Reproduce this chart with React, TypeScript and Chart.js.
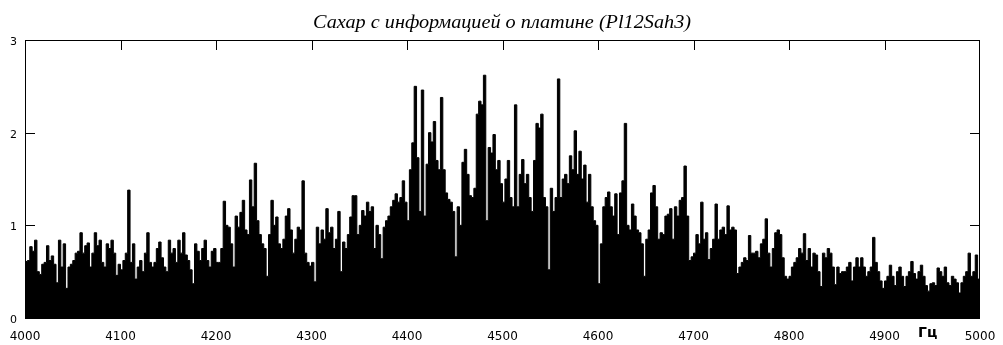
import { useEffect, useRef } from 'react';
import { Chart, registerables } from 'chart.js';

Chart.register(...registerables);

const titleText = 'Сахар с информацией о платине (Pl12Sah3)';
const unitLabel = 'Гц';
const startHz = 4000;
const endHz = 5000;
const binWidthHz = 2.5;
const xTickStep = 100;
const yMin = 0;
const yMax = 3;
const yTickStep = 1;

// Spectrum amplitude, one value per 2.5 Hz bin from 4000 Hz
const amplitude = [
  0.61, 0.62, 0.77, 0.72, 0.84, 0.50, 0.47, 0.58, 0.60, 0.78,
  0.62, 0.67, 0.58, 0.38, 0.84, 0.55, 0.80, 0.32, 0.55, 0.58,
  0.62, 0.70, 0.72, 0.92, 0.70, 0.78, 0.81, 0.55, 0.70, 0.92,
  0.78, 0.84, 0.60, 0.55, 0.80, 0.75, 0.84, 0.70, 0.46, 0.58,
  0.52, 0.62, 0.70, 1.38, 0.60, 0.80, 0.42, 0.55, 0.62, 0.50,
  0.70, 0.92, 0.60, 0.55, 0.60, 0.75, 0.82, 0.65, 0.55, 0.50,
  0.84, 0.70, 0.75, 0.60, 0.84, 0.70, 0.92, 0.68, 0.62, 0.52,
  0.37, 0.80, 0.72, 0.62, 0.75, 0.84, 0.62, 0.55, 0.72, 0.75,
  0.60, 0.60, 0.75, 1.26, 1.00, 0.98, 0.80, 0.55, 1.10, 0.98,
  1.14, 1.27, 0.95, 0.90, 1.49, 1.20, 1.67, 1.05, 0.90, 0.80,
  0.75, 0.45, 0.90, 1.27, 1.00, 1.09, 0.80, 0.75, 0.85, 1.10,
  1.18, 0.95, 0.70, 0.85, 0.98, 0.95, 1.48, 0.70, 0.60, 0.56,
  0.60, 0.39, 0.98, 0.80, 0.95, 0.85, 1.18, 0.92, 0.98, 0.75,
  0.85, 1.15, 0.50, 0.82, 0.75, 0.90, 1.09, 1.32, 1.32, 0.90,
  1.00, 1.16, 1.10, 1.25, 1.15, 1.20, 0.75, 1.00, 0.90, 0.64,
  0.98, 1.05, 1.10, 1.20, 1.27, 1.34, 1.25, 1.30, 1.48, 1.25,
  1.05, 1.60, 1.89, 2.50, 1.73, 1.15, 2.46, 1.10, 1.66, 2.00,
  1.90, 2.12, 1.70, 1.60, 2.38, 1.60, 1.35, 1.28, 1.25, 1.15,
  0.66, 1.20, 1.00, 1.68, 1.82, 1.55, 1.32, 1.30, 1.40, 2.20,
  2.34, 2.30, 2.62, 1.05, 1.84, 1.78, 1.98, 1.60, 1.70, 1.45,
  1.25, 1.50, 1.70, 1.30, 1.20, 2.30, 1.20, 1.55, 1.71, 1.45,
  1.55, 1.30, 1.15, 1.70, 2.10, 2.05, 2.20, 1.30, 1.20, 0.52,
  1.40, 1.15, 1.30, 2.58, 1.30, 1.50, 1.55, 1.45, 1.75, 1.60,
  2.02, 1.55, 1.80, 1.50, 1.65, 1.25, 1.55, 1.20, 1.05, 1.00,
  0.37, 0.80, 1.20, 1.30, 1.36, 1.20, 1.10, 1.34, 0.90, 1.35,
  1.48, 2.10, 1.00, 0.95, 1.23, 1.10, 0.95, 0.92, 0.80, 0.45,
  0.85, 0.95, 1.35, 1.43, 1.20, 0.85, 0.92, 0.90, 1.10, 1.12,
  1.18, 0.85, 1.20, 1.10, 1.27, 1.30, 1.64, 1.10, 0.62, 0.66,
  0.70, 0.90, 0.80, 1.25, 0.85, 0.92, 0.63, 0.75, 0.85, 1.23,
  0.85, 0.95, 0.98, 0.90, 1.21, 0.95, 0.98, 0.95, 0.48, 0.55,
  0.60, 0.65, 0.62, 0.89, 0.70, 0.70, 0.72, 0.65, 0.80, 0.85,
  1.07, 0.70, 0.55, 0.75, 0.92, 0.95, 0.90, 0.65, 0.45, 0.42,
  0.45, 0.55, 0.60, 0.65, 0.75, 0.70, 0.91, 0.62, 0.75, 0.55,
  0.70, 0.68, 0.50, 0.34, 0.70, 0.65, 0.75, 0.70, 0.55, 0.36,
  0.55, 0.48, 0.50, 0.50, 0.55, 0.60, 0.40, 0.55, 0.65, 0.55,
  0.65, 0.55, 0.45, 0.50, 0.55, 0.87, 0.60, 0.50, 0.40, 0.32,
  0.40, 0.45, 0.57, 0.45, 0.35, 0.50, 0.55, 0.45, 0.34, 0.45,
  0.50, 0.61, 0.48, 0.42, 0.50, 0.57, 0.45, 0.35, 0.29, 0.37,
  0.38, 0.35, 0.54, 0.50, 0.45, 0.55, 0.38, 0.35, 0.45, 0.42,
  0.38, 0.27, 0.38, 0.45, 0.50, 0.70, 0.45, 0.50, 0.68, 0.42,
];

const framePlugin = {
  id: 'frameAndLabels',
  afterDraw(chart: any) {
    const { ctx, chartArea, scales } = chart;
    const xs = scales.x;
    const ys = scales.y;
    const L = Math.round(chartArea.left);
    const R = Math.round(chartArea.right) - 1;
    const T = Math.round(chartArea.top);
    const B = Math.round(chartArea.bottom);
    ctx.save();
    ctx.fillStyle = '#000';
    // frame
    ctx.fillRect(L, T, R - L + 1, 1);
    ctx.fillRect(L, B, R - L + 1, 1);
    ctx.fillRect(L, T, 1, B - T + 1);
    ctx.fillRect(R, T, 1, B - T + 1);

    const tickLen = 10;
    // inward ticks along the top edge
    for (let v = startHz + xTickStep; v < endHz; v += xTickStep) {
      const px = Math.round(xs.getPixelForValue(v));
      ctx.fillRect(px, T, 1, tickLen);
    }
    // inward ticks on the left and right edges
    for (let v = yMin + yTickStep; v < yMax; v += yTickStep) {
      const py = Math.round(ys.getPixelForValue(v));
      ctx.fillRect(L, py, tickLen, 1);
      ctx.fillRect(R - tickLen + 1, py, tickLen, 1);
    }

    // title
    ctx.font = "italic 19px 'Liberation Serif'";
    const w = ctx.measureText(titleText).width;
    const sx = 378 / w;
    ctx.save();
    ctx.translate(502, 28);
    ctx.scale(sx, 1);
    ctx.textAlign = 'center';
    ctx.textBaseline = 'alphabetic';
    ctx.fillText(titleText, 0, 0);
    ctx.restore();

    // unit
    ctx.font = "bold 14px 'DejaVu Sans'";
    ctx.textAlign = 'left';
    ctx.textBaseline = 'alphabetic';
    ctx.fillText(unitLabel, 918, 337);
    ctx.restore();
  },
};

export default function App() {
  const ref = useRef<HTMLCanvasElement>(null);
  useEffect(() => {
    if (!ref.current) return;
    const points = amplitude.map((v, i) => ({ x: startHz + i * binWidthHz, y: v }));
    points.push({ x: startHz + amplitude.length * binWidthHz, y: amplitude[amplitude.length - 1] });
    const chart = new Chart(ref.current, {
      type: 'line',
      data: {
        datasets: [
          {
            data: points,
            stepped: true,
            fill: 'origin',
            backgroundColor: '#000',
            borderColor: '#000',
            borderWidth: 1,
            pointRadius: 0,
          },
        ],
      },
      options: {
        animation: false,
        responsive: true,
        maintainAspectRatio: false,
        devicePixelRatio: 1,
        layout: { padding: { top: 40, right: 23, left: 0, bottom: 0 } },
        plugins: {
          legend: { display: false },
          tooltip: { enabled: false },
          title: { display: false },
        },
        scales: {
          x: {
            type: 'linear',
            min: startHz,
            max: endHz,
            grid: { display: false, drawTicks: false },
            border: { display: false },
            ticks: {
              stepSize: xTickStep,
              autoSkip: false,
              maxRotation: 0,
              padding: 12,
              color: '#000',
              font: { family: 'DejaVu Sans', size: 12 },
              callback: (v: any) => String(v),
            },
            afterFit: (s: any) => {
              s.height = 27;
              s.paddingLeft = 0;
              s.paddingRight = 0;
            },
          },
          y: {
            min: yMin,
            max: yMax,
            grid: { display: false, drawTicks: false },
            border: { display: false },
            ticks: {
              stepSize: yTickStep,
              padding: 8,
              labelOffset: 2,
              color: '#000',
              font: { family: 'DejaVu Sans', size: 11 },
              callback: (v: any) => String(v),
            },
            afterFit: (s: any) => {
              s.width = 25;
              s.paddingTop = 0;
              s.paddingBottom = 0;
            },
          },
        },
      },
      plugins: [framePlugin],
    });
    return () => chart.destroy();
  }, []);
  return (
    <div style={{ position: 'fixed', left: 0, top: 0, width: 1003, height: 345, background: '#fff' }}>
      <canvas ref={ref} />
    </div>
  );
}
